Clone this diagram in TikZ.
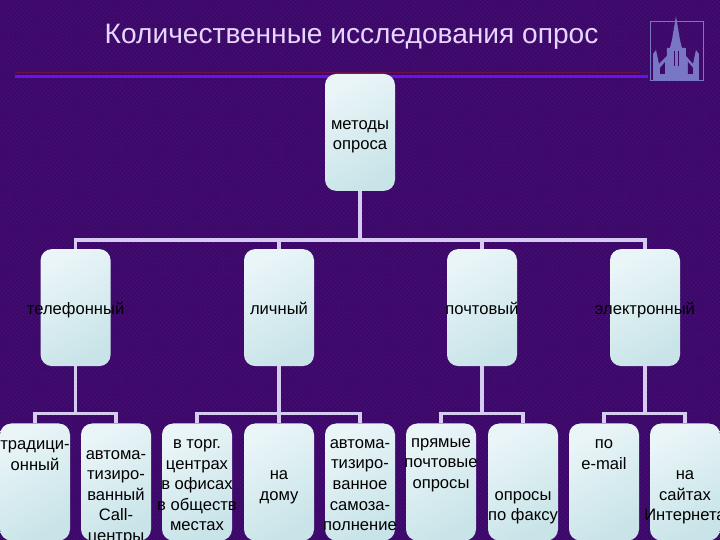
\documentclass[tikz,border=0pt]{standalone}
\usepackage{fontspec}
\setmainfont{Liberation Sans}
\usetikzlibrary{positioning, patterns}
\definecolor{bgpurple}{RGB}{60,9,106}
\definecolor{bgspeck}{RGB}{78,18,122}
\definecolor{titletext}{RGB}{230,214,252}
\definecolor{rulepurple}{RGB}{104,18,232}
\definecolor{ruledark}{RGB}{110,16,70}
\definecolor{linklav}{RGB}{214,204,242}
\definecolor{boxtop}{RGB}{234,245,248}
\definecolor{boxlow}{RGB}{200,228,232}
\definecolor{logoblue}{RGB}{122,118,198}
% text block of a box: raised by #1, allowed to stick out of the box
\newcommand{\boxlines}[2]{\makebox[0pt]{\raisebox{\dimexpr#1-5pt}[0pt][0pt]{%
    \begin{tabular}[c]{@{}c@{}}#2\end{tabular}}}}

\begin{document}
\begin{tikzpicture}[
    % Global Styles
    font=\rmfamily,
    % Node Styles
    methodbox/.style={
        rectangle,
        rounded corners=8pt,
        minimum width=1.75cm,
        minimum height=2.925cm,
        inner sep=0pt,
        top color=boxtop,
        bottom color=boxlow,
        shading angle=30,
        font=\fontsize{11.8}{14.6}\selectfont,
        text=black
    },
    connector/.style={
        linklav,
        line width=2.2pt
    },
    rulemain/.style={
        rulepurple,
        line width=1.8pt
    },
    rulefaint/.style={
        ruledark,
        line width=0.7pt
    }
]

    % --- Background ---
    \clip (0,0) rectangle (18,13.5);
    \fill[bgpurple] (0,0) rectangle (18,13.5);
    \fill[pattern=crosshatch dots, pattern color=bgspeck] (0,0) rectangle (18,13.5);

    % --- Title ---
    \node[font=\fontsize{20}{24}\selectfont, text=titletext] (title) at (8.79,12.58) {Количественные исследования опрос};

    \coordinate (ruleL) at (0.375,11.59);
    \coordinate (ruleR) at (16.2,11.59);
    \coordinate (ruleLd) at (0.375,11.68);
    \coordinate (ruleRd) at (16.0,11.68);
    \draw[rulefaint] (ruleLd) -- (ruleRd);
    \draw[rulemain] (ruleL) -- (ruleR);

    % --- Logo ---
    \begin{scope}[shift={(16.25,13)}, x=0.025cm, y=-0.025cm]
        \draw[logoblue, line width=0.5pt] (0,1) rectangle (53,60);
        \fill[logoblue] (26,-4) -- (30,20) -- (32,28) -- (36,28) -- (36,36) -- (43,44)
            -- (46,30) -- (49,34) -- (49,60) -- (3,60) -- (3,34) -- (6,30) -- (9,44)
            -- (17,36) -- (17,28) -- (20,28) -- (22,20) -- cycle;
        \fill[bgpurple] (10,48) -- (15,42) -- (15,54) -- (10,54) -- cycle;
        \fill[bgpurple] (38,42) -- (43,48) -- (43,54) -- (38,54) -- cycle;
        \fill[bgpurple] (24,31) rectangle (25.5,46);
        \fill[bgpurple] (28,31) rectangle (29.5,46);
    \end{scope}

    % --- Root ---
    \node[methodbox] (root) at (9,10.19) {\boxlines{0pt}{методы\\опроса}};

    % --- Channels ---
    \node[methodbox] (tel) at (1.89,5.81) {\boxlines{0pt}{телефонный}};
    \node[methodbox] (pers) at (6.975,5.81) {\boxlines{0pt}{личный}};
    \node[methodbox] (post) at (12.05,5.81) {\boxlines{0pt}{почтовый}};
    \node[methodbox] (elec) at (16.125,5.81) {\boxlines{0pt}{электронный}};

    % --- Telephone ---
    \node[methodbox] (trad) at (0.875,1.45) {\boxlines{20.6pt}{традици-\\онный}};
    \node[methodbox] (auto) at (2.9,1.45) {\boxlines{-8.2pt}{автома-\\тизиро-\\ванный\\Call-\\центры}};

    % --- Personal ---
    \node[methodbox] (mall) at (4.925,1.45) {\boxlines{-0.7pt}{в торг.\\центрах\\в офисах\\в обществ\\местах}};
    \node[methodbox] (home) at (6.975,1.45) {\boxlines{-0.7pt}{на\\дому}};
    \node[methodbox] (self) at (9,1.45) {\boxlines{-0.4pt}{автома-\\тизиро-\\ванное\\самоза-\\полнение}};

    % --- Postal ---
    \node[methodbox] (direct) at (11.025,1.45) {\boxlines{14.9pt}{прямые\\почтовые\\опросы}};
    \node[methodbox] (fax) at (13.075,1.45) {\boxlines{-15.3pt}{опросы\\по факсу}};

    % --- Electronic ---
    \node[methodbox] (email) at (15.1,1.45) {\boxlines{21.3pt}{по\\e-mail}};
    \node[methodbox] (site) at (17.125,1.45) {\boxlines{-8.2pt}{на\\сайтах\\Интернета}};

    % --- Connectors ---
    \coordinate (busA) at (9,7.5);
    \coordinate (busB) at (9,3.16);
    \foreach \c in {tel,pers,post,elec}
        \draw[connector] (root.south) |- (busA -| \c.north) -- (\c.north);
    \foreach \c in {trad,auto}
        \draw[connector] (tel.south) |- (busB -| \c.north) -- (\c.north);
    \foreach \c in {mall,home,self}
        \draw[connector] (pers.south) |- (busB -| \c.north) -- (\c.north);
    \foreach \c in {direct,fax}
        \draw[connector] (post.south) |- (busB -| \c.north) -- (\c.north);
    \foreach \c in {email,site}
        \draw[connector] (elec.south) |- (busB -| \c.north) -- (\c.north);

\end{tikzpicture}
\end{document}
